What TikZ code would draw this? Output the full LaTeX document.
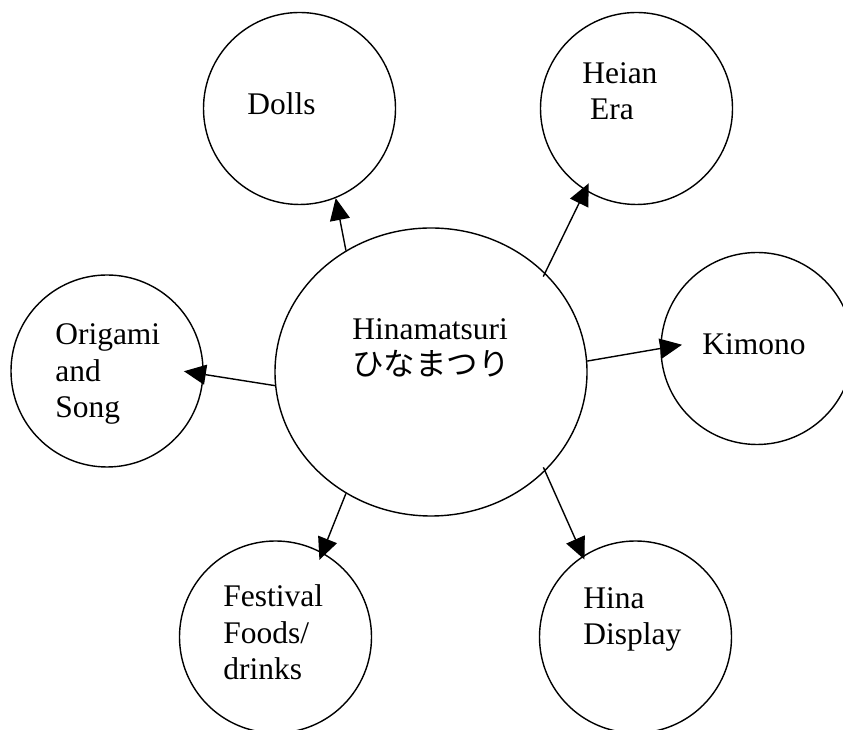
\documentclass[tikz,border=0pt]{standalone}
\usepackage{fontspec}
\setmainfont{Liberation Serif}
\newfontfamily\jpfont{Noto Sans CJK JP}
\usepackage{tikz}
\usetikzlibrary{arrows.meta, positioning, shapes.geometric}

\tikzset{
  bubble/.style={circle, draw, line width=1pt, minimum size=4.8cm, inner sep=0pt},
  lbl/.style={font=\fontsize{22.4}{26.3}\selectfont, align=left, anchor=base west, inner sep=0pt},
  link/.style={-{Triangle[length=5.5mm, width=5mm]}, line width=1pt}
}

\begin{document}
\begin{tikzpicture}[x=1cm, y=1cm]
\useasboundingbox (0,0) rectangle (21.075,18.25);
% centre of the web
\node[ellipse, draw, line width=1pt, minimum width=7.8cm, minimum height=7.2cm, inner sep=0pt]
  (hub) at (10.775,8.95) {};
% (base of a multi-line label = its last line)
\node[lbl] (hub-txt) at (8.8,8.85) {Hinamatsuri\\{\jpfont ひなまつり}};
% the six topics
\node[bubble] (dolls) at (7.4875,15.5375) {};
\node[bubble] (heian) at (15.9125,15.5375) {};
\node[bubble] (kimono) at (18.925,9.5375) {};
\node[bubble] (origami) at (2.675,8.975) {};
\node[bubble] (festival) at (6.8875,2.325) {};
\node[bubble] (hina) at (15.8875,2.325) {};
\node[lbl] (dolls-txt) at (6.175,15.375) {Dolls};
\node[lbl] (heian-txt) at (14.55,15.25) {Heian\\\hspace{0.25em}Era};
\node[lbl] (kimono-txt) at (17.55,9.375) {Kimono};
\node[lbl] (origami-txt) at (1.375,7.8) {Origami\\and\\Song};
\node[lbl] (festival-txt) at (5.575,1.25) {Festival\\Foods/\\drinks};
\node[lbl] (hina-txt) at (14.575,2.125) {Hina\\Display};
% arrows out of the hub
\draw[link] (hub.125) -- (dolls.292);
\draw[link, shorten <=-3pt, shorten >=-0.2cm] (hub.41) -- (heian.238);
\draw[link, shorten >=-0.55cm] (hub.4) -- (kimono.180);
\draw[link, shorten >=-0.5cm] (hub.185) -- (origami.358);
\draw[link, shorten >=-0.2cm] (hub.235) -- (festival.61);
\draw[link, shorten <=-3pt, shorten >=-0.1cm] (hub.319) -- (hina.123);
\end{tikzpicture}
\end{document}
